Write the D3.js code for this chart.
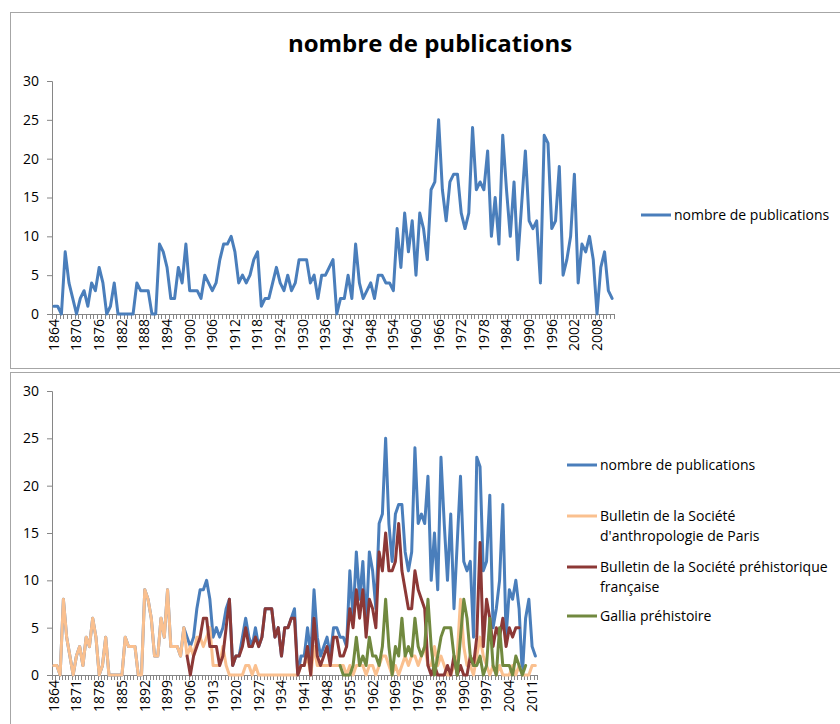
<!DOCTYPE html>
<html>
<head>
<meta charset="utf-8">
<script src="https://cdn.jsdelivr.net/npm/d3@7"></script>
<style>
  body { margin: 0; background: #fff; }
  svg text { font-family: "Open Sans", "DejaVu Sans", sans-serif; fill: #000; }
</style>
</head>
<body>
<svg id="chart" width="840" height="724"></svg>
<script>
// Categories: one per year
const years = d3.range(1864, 2013);
const yTicks = [0, 5, 10, 15, 20, 25, 30];

// nombre de publications (total)
const pubs = [1,1,0,8,4,2,0,2,3,1, 4,3,6,4,0,1,4,0,0,0, 0,0,4,3,3,3,0,0,9,8,
  6,2,2,6,4,9,3,3,3,2, 5,4,3,4,7,9,9,10,8,4, 5,4,5,7,8,1,2,2,4,6,
  4,3,5,3,4,7,7,7,4,5, 2,5,5,6,7,0,2,2,5,2, 9,4,2,3,4,2,5,5,4,4,
  3,11,6,13,8,12,5,13,11,7, 16,17,25,16,12,17,18,18,13,11, 13,24,16,17,16,21,10,15,9,23,
  16,10,17,7,14,21,12,11,12,4, 23,22,11,12,19,5,7,10,18,4, 9,8,10,7,0,6,8,3,2];

// Bulletin de la Société d'anthropologie de Paris
const anthro = [1,1,0,8,4,2,0,2,3,1, 4,3,6,4,0,1,4,0,0,0, 0,0,4,3,3,3,0,0,9,8,
  6,2,2,6,4,9,3,3,3,2, 5,2,3,2,4,4,3,4,5,1, 1,1,3,1,0,0,0,0,0,1,
  1,0,1,0,0,0,0,0,0,0, 0,0,0,0,0,0,1,1,2,0, 3,1,1,1,1,1,1,1,1,1,
  0,1,0,1,1,1,0,1,1,0, 1,2,2,1,0,1,0,1,2,1, 2,2,1,2,3,1,1,3,1,2,
  1,0,0,1,2,8,3,1,1,0, 2,4,2,1,0,1,0,1,0,0, 0,1,0,1,0,0,0,1,1];

// Bulletin de la Société préhistorique française
const spf = [null,null,null,null,null,null,null,null,null,null,
  null,null,null,null,null,null,null,null,null,null,
  null,null,null,null,null,null,null,null,null,null,
  null,null,null,null,null,null,null,null,null,null,
  null,2,0,2,3,4,6,6,3,3, 3,1,2,5,8,1,2,2,3,5,
  3,3,4,3,4,7,7,7,4,5, 2,5,5,6,6,0,1,1,3,0, 6,2,1,2,3,1,4,4,2,2,
  3,7,5,9,6,9,4,8,7,5, 13,11,15,11,11,12,16,11,9,7, 7,11,9,8,7,1,0,1,0,0,
  0,1,0,2,0,1,0,0,2,1, 4,14,3,8,6,3,5,4,6,3, 5,4,5,5,null,null,null,null,null];

// Gallia préhistoire
const gallia = [null,null,null,null,null,null,null,null,null,null,
  null,null,null,null,null,null,null,null,null,null,
  null,null,null,null,null,null,null,null,null,null,
  null,null,null,null,null,null,null,null,null,null,
  null,null,null,null,null,null,null,null,null,null,
  null,null,null,null,null,null,null,null,null,null,
  null,null,null,null,null,null,null,null,null,null,
  null,null,null,null,null,null,null,null,null,null,
  null,null,null,null,null,null,null,null,1,0,
  0,0,1,4,1,2,1,4,2,2, 1,3,8,3,0,3,2,6,2,3, 2,6,3,2,3,8,3,0,2,4,
  5,5,5,2,0,4,8,6,2,1, 1,2,0,1,6,1,0,5,1,1, 1,0,2,1,0,1,null,null,null];

const seriesNames = [
  'nombre de publications',
  "Bulletin de la Société d'anthropologie de Paris",
  'Bulletin de la Société préhistorique française',
  'Gallia préhistoire'
];
const colors = ['#4A7EBB', '#FAC08F', '#8C3836', '#71893F'];

const svg = d3.select('#chart');
const axisColor = '#868686';

// Panel frames
svg.append('rect').attr('x', 10.5).attr('y', 12.5).attr('width', 840).attr('height', 356)
  .attr('fill', 'none').attr('stroke', '#a6a6a6');
svg.append('rect').attr('x', 10.5).attr('y', 372.5).attr('width', 840).attr('height', 360)
  .attr('fill', 'none').attr('stroke', '#a6a6a6');

// Title
svg.append('text')
  .attr('x', 430).attr('y', 52)
  .attr('text-anchor', 'middle')
  .attr('font-size', '24px')
  .attr('font-weight', 'bold')
  .text('nombre de publications');

function drawPanel(opts) {
  const x = d3.scaleBand().domain(years).range([opts.left, opts.right]).padding(0);
  const y = d3.scaleLinear().domain([0, 30]).range([opts.bottom, opts.top]);
  const g = svg.append('g');

  // Y axis
  const yAxis = g.append('g')
    .attr('transform', 'translate(' + opts.left + ',0)')
    .call(d3.axisLeft(y).tickValues(yTicks).tickSize(5).tickPadding(8));
  yAxis.select('.domain').attr('stroke', axisColor);
  yAxis.selectAll('.tick line').attr('stroke', axisColor);
  yAxis.selectAll('.tick text').attr('font-size', '14px')
    .attr('font-family', '"Open Sans", sans-serif');

  // X axis line + one tick per category boundary
  g.append('line')
    .attr('x1', opts.left).attr('x2', opts.right)
    .attr('y1', opts.bottom + 0.5).attr('y2', opts.bottom + 0.5)
    .attr('stroke', axisColor);
  g.selectAll('.xtick')
    .data(years.concat([null]))
    .join('line')
    .attr('x1', (d, i) => Math.round(opts.left + i * x.bandwidth()) + 0.5)
    .attr('x2', (d, i) => Math.round(opts.left + i * x.bandwidth()) + 0.5)
    .attr('y1', opts.bottom)
    .attr('y2', opts.bottom + 5)
    .attr('stroke', axisColor);

  // X labels (rotated)
  g.selectAll('.xlab')
    .data(years.filter((d, i) => i % opts.labelStep === 0))
    .join('text')
    .attr('transform', d => 'translate(' + (x(d) + x.bandwidth() / 2) + ',' + (opts.bottom + 5) + ') rotate(-90)')
    .attr('dy', '0.35em')
    .attr('text-anchor', 'end')
    .attr('font-size', '14px')
    .text(d => d);

  // Lines
  const line = d3.line()
    .defined(d => d.v != null)
    .x(d => x(d.year) + x.bandwidth() / 2)
    .y(d => y(d.v));

  opts.series.forEach(s => {
    g.append('path')
      .datum(years.map((yr, i) => ({ year: yr, v: s.values[i] })))
      .attr('d', line)
      .attr('fill', 'none')
      .attr('stroke', s.color)
      .attr('stroke-width', 3)
      .attr('stroke-linejoin', 'round')
      .attr('stroke-linecap', 'round');
  });

  // Legend
  opts.series.forEach((s, i) => {
    const ly = opts.legendY[i];
    g.append('line')
      .attr('x1', opts.legendX).attr('x2', opts.legendX + 30)
      .attr('y1', ly).attr('y2', ly)
      .attr('stroke', s.color).attr('stroke-width', 3);
    const t = g.append('text')
      .attr('x', opts.legendX + 33)
      .attr('y', ly + 5)
      .attr('font-size', '14px');
    s.label.forEach((lbl, k) => {
      t.append('tspan').attr('x', opts.legendX + 33).attr('dy', k === 0 ? 0 : 19.5).text(lbl);
    });
  });
}

drawPanel({
  left: 52, right: 614, top: 81, bottom: 314, labelStep: 6,
  legendX: 641, legendY: [215],
  series: [{ values: pubs, color: colors[0], label: [seriesNames[0]] }]
});

drawPanel({
  left: 52, right: 537, top: 391, bottom: 675, labelStep: 7,
  legendX: 567, legendY: [465, 516, 567, 616],
  series: [
    { values: pubs, color: colors[0], label: [seriesNames[0]] },
    { values: anthro, color: colors[1], label: ['Bulletin de la Société', "d'anthropologie de Paris"] },
    { values: spf, color: colors[2], label: ['Bulletin de la Société préhistorique', 'française'] },
    { values: gallia, color: colors[3], label: [seriesNames[3]] }
  ]
});
</script>
</body>
</html>
